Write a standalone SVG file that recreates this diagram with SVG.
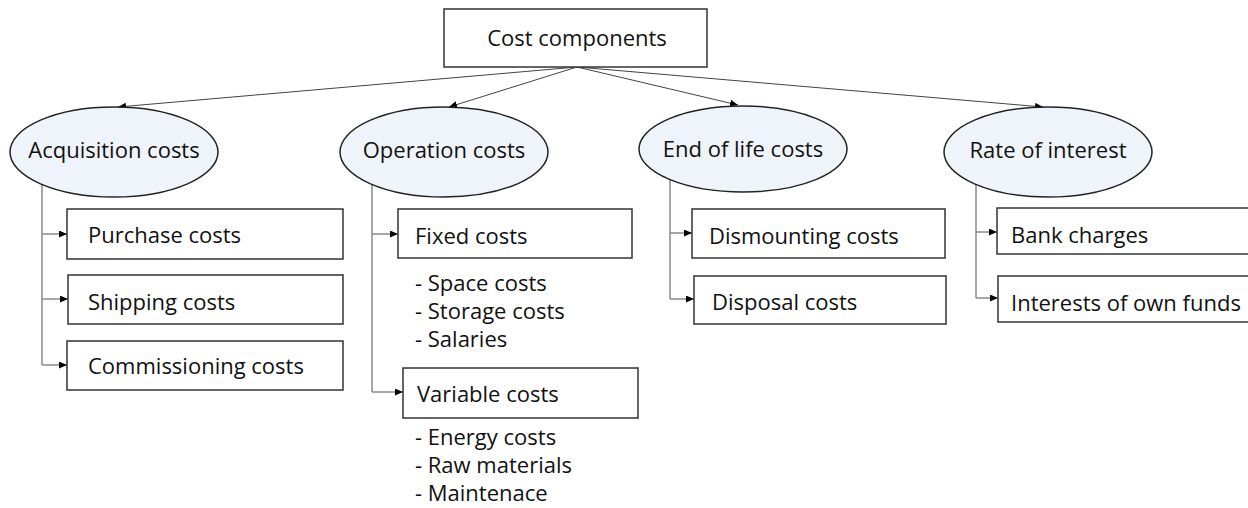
<svg xmlns="http://www.w3.org/2000/svg" width="1248" height="508" viewBox="0 0 1248 508">
<style>
text { font-family: "Open Sans", "Noto Sans", "Liberation Sans", sans-serif; font-size: 22px; fill: #111; }
.box { fill: #fff; stroke: #333; stroke-width: 1.5; }
.ell { fill: #eff4fa; stroke: #222; stroke-width: 1.5; }
.mid { text-anchor: middle; }
.top { fill: none; stroke: #444; stroke-width: 1; marker-end: url(#arr); }
.tree { fill: none; stroke: #8a8a8a; stroke-width: 1.5; }
.br { fill: none; stroke: #8a8a8a; stroke-width: 1.5; marker-end: url(#arr); }
</style>
<defs>
<marker id="arr" markerUnits="userSpaceOnUse" markerWidth="9" markerHeight="8" refX="8" refY="3.5" orient="auto">
<path d="M0,0 L8,3.5 L0,7 z" fill="#000"/>
</marker>
</defs>
<rect width="1248" height="508" fill="#fff"/>
<g id="connectors">
<path class="top" d="M577,67 L118,107"/>
<path class="top" d="M577,67 L449,107"/>
<path class="top" d="M577,67 L738,105"/>
<path class="top" d="M577,67 L1043,107"/>
<path class="tree" d="M42,184 L42,365"/>
<path class="br" d="M42,234 L67,234"/>
<path class="br" d="M42,299 L68,299"/>
<path class="br" d="M42,365 L67,365"/>
<path class="tree" d="M372,184 L372,392"/>
<path class="br" d="M372,234 L398,234"/>
<path class="br" d="M372,392 L403,392"/>
<path class="tree" d="M670,180 L670,299"/>
<path class="br" d="M670,233 L692,233"/>
<path class="br" d="M670,299 L694,299"/>
<path class="tree" d="M976,184 L976,298"/>
<path class="br" d="M976,232 L997,232"/>
<path class="br" d="M976,298 L998,298"/>
</g>
<g id="cost-components">
<rect class="box" x="444" y="9" width="263" height="58"/>
<text class="mid" x="577" y="46">Cost components</text>
</g>
<g id="acquisition-costs">
<ellipse class="ell" cx="114" cy="152" rx="104" ry="45"/>
<text class="mid" x="114" y="158">Acquisition costs</text>
</g>
<g id="operation-costs">
<ellipse class="ell" cx="444" cy="152" rx="104" ry="45"/>
<text class="mid" x="444" y="158">Operation costs</text>
</g>
<g id="end-of-life-costs">
<ellipse class="ell" cx="743" cy="149" rx="104" ry="43"/>
<text class="mid" x="743" y="157">End of life costs</text>
</g>
<g id="rate-of-interest">
<ellipse class="ell" cx="1048" cy="152" rx="104" ry="45"/>
<text class="mid" x="1048" y="158">Rate of interest</text>
</g>
<g id="purchase-costs">
<rect class="box" x="67" y="209" width="276" height="50"/>
<text x="88" y="243">Purchase costs</text>
</g>
<g id="shipping-costs">
<rect class="box" x="68" y="275" width="275" height="49"/>
<text x="88" y="310">Shipping costs</text>
</g>
<g id="commissioning-costs">
<rect class="box" x="67" y="341" width="276" height="49"/>
<text x="88" y="374">Commissioning costs</text>
</g>
<g id="fixed-costs">
<rect class="box" x="398" y="209" width="234" height="49"/>
<text x="415" y="244">Fixed costs</text>
<text x="415" y="291">- Space costs</text>
<text x="415" y="319">- Storage costs</text>
<text x="415" y="347">- Salaries</text>
</g>
<g id="variable-costs">
<rect class="box" x="403" y="368" width="235" height="50"/>
<text x="417" y="402">Variable costs</text>
<text x="415" y="445">- Energy costs</text>
<text x="415" y="473">- Raw materials</text>
<text x="415" y="501">- Maintenace</text>
</g>
<g id="dismounting-costs">
<rect class="box" x="692" y="209" width="253" height="49"/>
<text x="709" y="244">Dismounting costs</text>
</g>
<g id="disposal-costs">
<rect class="box" x="694" y="276" width="252" height="48"/>
<text x="712" y="310">Disposal costs</text>
</g>
<g id="bank-charges">
<rect class="box" x="997" y="208" width="260" height="46"/>
<text x="1011" y="243">Bank charges</text>
</g>
<g id="interests-of-own-funds">
<rect class="box" x="998" y="276" width="260" height="46"/>
<text x="1011" y="311">Interests of own funds</text>
</g>
</svg>
